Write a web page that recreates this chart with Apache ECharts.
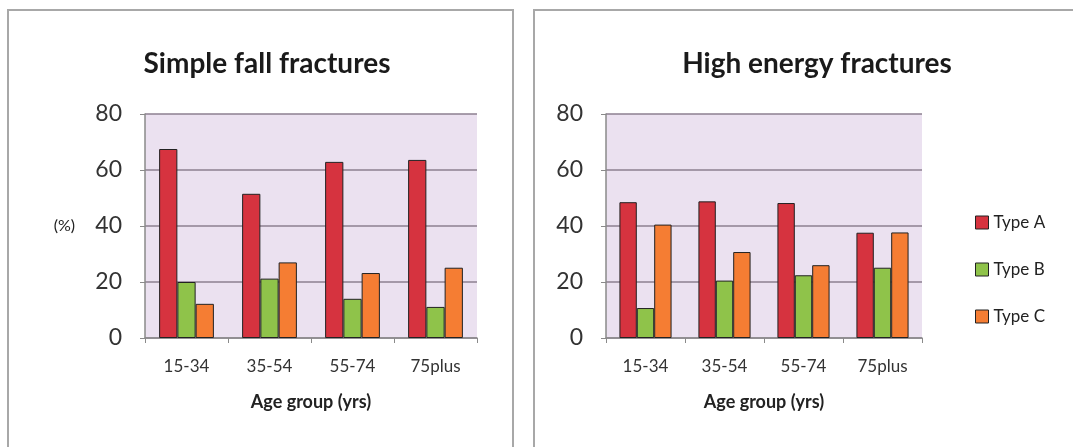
<!DOCTYPE html>
<html>
<head>
<meta charset="utf-8">
<script src="https://cdn.jsdelivr.net/npm/echarts@6/dist/echarts.min.js"></script>
<style>
html,body{margin:0;padding:0;background:#fff;}
#chart{width:1073px;height:447px;}
</style>
</head>
<body>
<div id="chart"></div>
<script>
var categories = ['15-34', '35-54', '55-74', '75plus'];
var yTicks = [0, 20, 40, 60, 80];
var seriesNames = ['Type A', 'Type B', 'Type C'];
var simpleA = [67.5, 51.5, 62.9, 63.6];
var simpleB = [20.0, 21.2, 14.0, 11.1];
var simpleC = [12.2, 27.0, 23.2, 25.1];
var highA = [48.5, 48.8, 48.2, 37.6];
var highB = [10.7, 20.5, 22.4, 25.1];
var highC = [40.5, 30.7, 26.0, 37.7];

var colors = ['#d6333f', '#8fc34a', '#f57d33'];
var font = 'Lato, "Open Sans", sans-serif';

function xAx(idx) {
  return {
    type: 'category', gridIndex: idx, data: categories,
    name: 'Age group (yrs)', nameLocation: 'middle', nameGap: 55,
    nameTextStyle: { fontFamily: font, fontSize: 18, fontWeight: 'bold', color: '#222' },
    axisLine: { lineStyle: { color: '#8a8a8a', width: 1.5 } },
    axisTick: { show: true, length: 5, lineStyle: { color: '#8a8a8a' } },
    axisLabel: { fontFamily: font, fontSize: 17, color: '#333', margin: 20 }
  };
}
function yAx(idx, withName) {
  var o = {
    type: 'value', gridIndex: idx, min: yTicks[0], max: yTicks[yTicks.length - 1], interval: yTicks[1] - yTicks[0],
    axisLine: { show: true, lineStyle: { color: '#8a8a8a', width: 1.5 } },
    axisTick: { show: true, length: 5, lineStyle: { color: '#8a8a8a' } },
    splitLine: { show: true, lineStyle: { color: '#8c7f91', width: 1.5 } },
    axisLabel: { fontFamily: font, fontSize: 23, color: '#333', margin: 23 }
  };
  if (withName) {
    o.name = '(%)';
    o.nameLocation = 'middle';
    o.nameRotate = 0;
    o.nameGap = 70;
    o.nameTextStyle = { fontFamily: font, fontSize: 16, color: '#222' };
  }
  return o;
}
function bars(name, data, ci, axisIdx) {
  return {
    name: name, type: 'bar', xAxisIndex: axisIdx, yAxisIndex: axisIdx, data: data,
    barGap: '0%', barCategoryGap: '34%',
    itemStyle: { color: colors[ci], borderColor: '#222', borderWidth: 1 }
  };
}

var chart = echarts.init(document.getElementById('chart'));
chart.setOption({
  animation: false,
  color: colors,
  graphic: [
    { type: 'rect', shape: { x: 8, y: 10, width: 505, height: 460 }, style: { fill: 'none', stroke: '#a8a8a8', lineWidth: 2 }, z: 0 },
    { type: 'rect', shape: { x: 534, y: 10, width: 560, height: 460 }, style: { fill: 'none', stroke: '#a8a8a8', lineWidth: 2 }, z: 0 }
  ],
  title: [
    { text: 'Simple fall fractures', left: 262, top: 45, textAlign: 'center',
      textStyle: { fontFamily: font, fontSize: 28, fontWeight: 'bold', color: '#1a1a1a' } },
    { text: 'High energy fractures', left: 812, top: 45, textAlign: 'center',
      textStyle: { fontFamily: font, fontSize: 28, fontWeight: 'bold', color: '#1a1a1a' } }
  ],
  legend: {
    data: seriesNames, orient: 'vertical', left: 970, top: 209, itemGap: 30,
    icon: 'rect', itemWidth: 13, itemHeight: 13,
    itemStyle: { borderColor: '#222', borderWidth: 1 },
    textStyle: { fontFamily: font, fontSize: 17, color: '#222' }
  },
  grid: [
    { left: 145, top: 114, width: 332, height: 224, show: true, backgroundColor: '#ebe1f0', borderWidth: 0 },
    { left: 606, top: 114, width: 316, height: 224, show: true, backgroundColor: '#ebe1f0', borderWidth: 0 }
  ],
  xAxis: [xAx(0), xAx(1)],
  yAxis: [yAx(0, true), yAx(1, false)],
  series: [
    bars(seriesNames[0], simpleA, 0, 0),
    bars(seriesNames[1], simpleB, 1, 0),
    bars(seriesNames[2], simpleC, 2, 0),
    bars(seriesNames[0], highA, 0, 1),
    bars(seriesNames[1], highB, 1, 1),
    bars(seriesNames[2], highC, 2, 1)
  ]
});
</script>
</body>
</html>
